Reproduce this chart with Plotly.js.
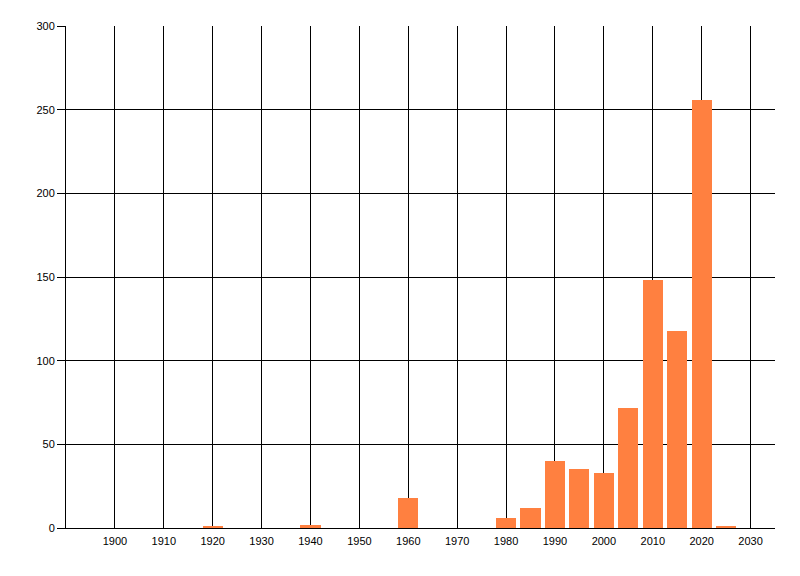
<!DOCTYPE html>
<html>
<head>
<meta charset="utf-8">
<script src="https://cdn.plot.ly/plotly-3.0.1.min.js"></script>
<style>html,body{margin:0;padding:0;background:#fff;}#chart{width:800px;height:576px;}</style>
</head>
<body>
<div id="chart"></div>
<script>
const years = [1920, 1940, 1960, 1980, 1985, 1990, 1995, 2000, 2005, 2010, 2015, 2020, 2025];
const counts = [1, 2, 18, 6, 12, 40, 35, 33, 72, 148, 118, 256, 1];
const xTickVals = [1900, 1910, 1920, 1930, 1940, 1950, 1960, 1970, 1980, 1990, 2000, 2010, 2020, 2030];
const xTickText = xTickVals.map(String);
const yTickVals = [0, 50, 100, 150, 200, 250, 300];

const trace = {
  type: 'bar',
  x: years,
  y: counts,
  width: 4.1,
  marker: {color: '#FF8040', line: {width: 0}},
  hoverinfo: 'x+y'
};

const layout = {
  width: 800,
  height: 576,
  margin: {l: 66, r: 25, t: 26, b: 48, pad: 0},
  paper_bgcolor: '#ffffff',
  plot_bgcolor: '#ffffff',
  showlegend: false,
  bargap: 0,
  font: {family: 'Liberation Sans, Arial, sans-serif', size: 11, color: '#000000'},
  xaxis: {
    range: [1890, 2035],
    tickmode: 'array',
    tickvals: xTickVals,
    ticktext: xTickText,
    showgrid: true,
    gridcolor: '#000000',
    gridwidth: 1,
    showline: true,
    linecolor: '#000000',
    linewidth: 1,
    ticks: '',
    ticklabelstandoff: 3,
    zeroline: false,
    fixedrange: true
  },
  yaxis: {
    range: [0, 300],
    tickmode: 'array',
    tickvals: yTickVals,
    showgrid: true,
    gridcolor: '#000000',
    gridwidth: 1,
    showline: true,
    linecolor: '#000000',
    linewidth: 1,
    ticks: 'outside',
    ticklen: 8,
    tickcolor: '#000000',
    tickwidth: 1,
    zeroline: false,
    fixedrange: true
  }
};

Plotly.newPlot('chart', [trace], layout, {displayModeBar: false, staticPlot: true});
</script>
</body>
</html>
